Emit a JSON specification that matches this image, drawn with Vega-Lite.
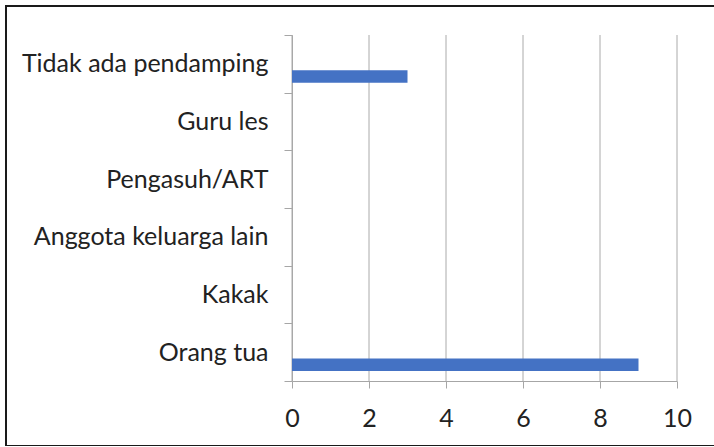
{
  "$schema": "https://vega.github.io/schema/vega-lite/v6.json",
  "autosize": {"type": "none"},
  "padding": {"left": 6, "top": 6, "right": 0, "bottom": 0},
  "width": 714,
  "height": 440,
  "background": "white",
  "config": {
    "view": {"stroke": "#1a1a1a", "strokeWidth": 2},
    "font": "Lato"
  },
  "resolve": {"scale": {"y": "independent"}},
  "layer": [
    {
      "data": {"values": [{"v": 0}, {"v": 2}, {"v": 4}, {"v": 6}, {"v": 8}, {"v": 10}]},
      "mark": {"type": "rule", "color": "#aaaaaa", "strokeWidth": 1},
      "encoding": {
        "x": {
          "field": "v",
          "type": "quantitative",
          "scale": {"domain": [0, 10], "range": [286, 671], "nice": false},
          "axis": {
            "title": null,
            "offset": -65,
            "values": [0, 2, 4, 6, 8, 10],
            "tickSize": 7,
            "tickColor": "#a6a6a6",
            "domainColor": "#a6a6a6",
            "grid": false,
            "labelPadding": 18,
            "labelFontSize": 25,
            "labelColor": "#222222",
            "labelFlush": false
          }
        },
        "y": {
          "datum": 0,
          "type": "quantitative",
          "scale": {"domain": [0, 1], "range": [29, 375], "nice": false, "zero": false},
          "axis": null
        },
        "y2": {"datum": 1}
      }
    },
    {
      "data": {
        "values": [
          {"kategori": "Tidak ada pendamping", "jumlah": 3},
          {"kategori": "Guru les", "jumlah": 0},
          {"kategori": "Pengasuh/ART", "jumlah": 0},
          {"kategori": "Anggota keluarga lain", "jumlah": 0},
          {"kategori": "Kakak", "jumlah": 0},
          {"kategori": "Orang tua", "jumlah": 9}
        ]
      },
      "mark": {"type": "bar", "color": "#4472C4", "height": 12.5, "yOffset": 12.7},
      "encoding": {
        "y": {
          "field": "kategori",
          "type": "nominal",
          "sort": null,
          "scale": {"range": [29, 375], "paddingInner": 0, "paddingOuter": 0},
          "axis": {
            "title": null,
            "offset": -286,
            "tickBand": "extent",
            "tickSize": 8,
            "tickColor": "#a6a6a6",
            "domainColor": "#a6a6a6",
            "labelPadding": 16,
            "labelFontSize": 25,
            "labelColor": "#222222",
            "labelLimit": 400,
            "grid": false
          }
        },
        "x": {
          "field": "jumlah",
          "type": "quantitative",
          "scale": {"domain": [0, 10], "range": [286, 671], "nice": false},
          "axis": {
            "title": null,
            "offset": -65,
            "values": [0, 2, 4, 6, 8, 10],
            "tickSize": 7,
            "tickColor": "#a6a6a6",
            "domainColor": "#a6a6a6",
            "grid": false,
            "labelPadding": 18,
            "labelFontSize": 25,
            "labelColor": "#222222",
            "labelFlush": false
          }
        }
      }
    }
  ]
}
